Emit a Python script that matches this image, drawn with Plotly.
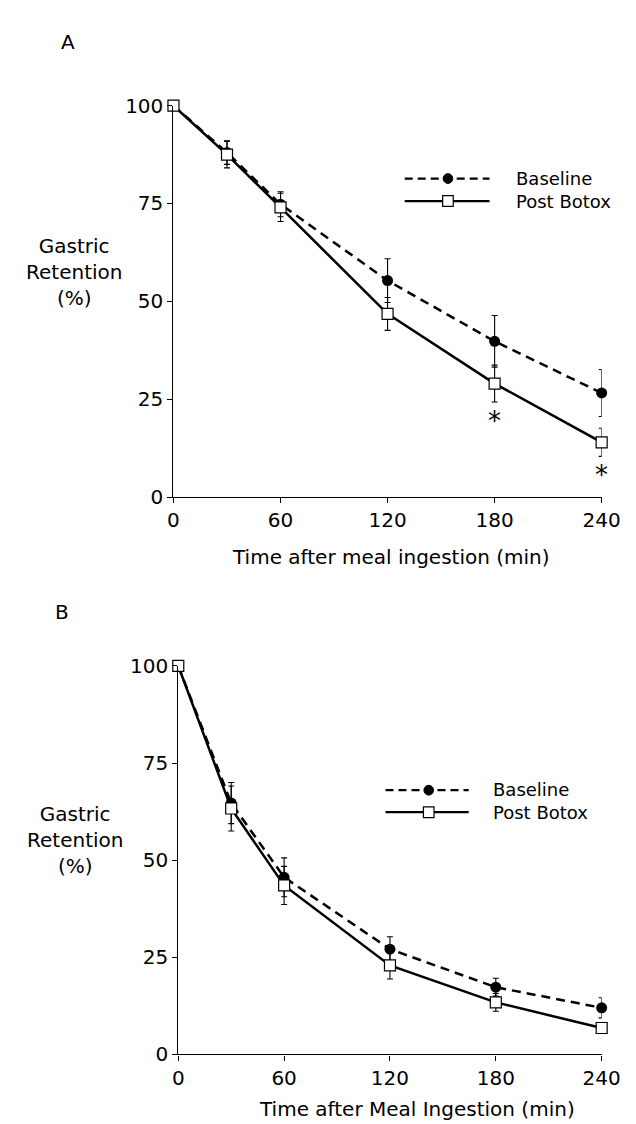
import plotly.graph_objects as go

W, H = 636, 1124

# ---------------- data ----------------
time_min = [0, 30, 60, 120, 180, 240]
x_ticks = [0, 60, 120, 180, 240]
y_ticks = [0, 25, 50, 75, 100]

a_baseline = [100, 88.0, 74.8, 55.3, 39.8, 26.6]
a_baseline_err = [0, 3.0, 3.2, 5.6, 6.6, 6.0]
a_post = [100, 87.5, 74.0, 46.8, 29.0, 14.0]
a_post_err = [0, 3.4, 3.6, 4.2, 4.7, 3.6]

b_baseline = [100, 64.7, 45.6, 27.1, 17.3, 12.0]
b_baseline_err = [0, 5.3, 5.0, 3.2, 2.3, 2.6]
b_post = [100, 63.3, 43.5, 22.9, 13.4, 6.8]
b_post_err = [0, 5.8, 4.9, 3.5, 2.3, 1.0]

a_sig_times = [180, 240]

series_names = ["Baseline", "Post Botox"]
panel_letters = ["A", "B"]
x_titles = ["Time after meal ingestion (min)", "Time after Meal Ingestion (min)"]
y_title = "Gastric<br>Retention<br>(%)"

FONT = "DejaVu Sans"


def px(x):
    return x / W


def py(y):
    return 1 - y / H


fig = go.Figure()


def add_panel(xa, ya, base, base_err, post, post_err):
    fig.add_trace(go.Scatter(
        x=time_min, y=base, name=series_names[0], mode="lines+markers",
        xaxis=xa, yaxis=ya, cliponaxis=False, showlegend=False,
        line=dict(color="black", width=2.5, dash="9px,6px"),
        marker=dict(symbol="circle", size=11, color="black"),
        error_y=dict(type="data", array=base_err, symmetric=True,
                     color="black", thickness=1.1, width=3),
    ))
    fig.add_trace(go.Scatter(
        x=time_min, y=post, name=series_names[1], mode="lines+markers",
        xaxis=xa, yaxis=ya, cliponaxis=False, showlegend=False,
        line=dict(color="black", width=2.5),
        marker=dict(symbol="square", size=11, color="white",
                    line=dict(color="black", width=1.2)),
        error_y=dict(type="data", array=post_err, symmetric=True,
                     color="black", thickness=1.1, width=3),
    ))


add_panel("x", "y", a_baseline, a_baseline_err, a_post, a_post_err)
add_panel("x2", "y2", b_baseline, b_baseline_err, b_post, b_post_err)

axis_common = dict(
    showline=True, linecolor="black", linewidth=1.3,
    ticks="outside", ticklen=5, tickwidth=1.1, tickcolor="black",
    showgrid=False, zeroline=False,
    tickfont=dict(family=FONT, size=20, color="black"),
)

fig.update_layout(
    width=W, height=H, autosize=False,
    margin=dict(l=0, r=0, t=0, b=0),
    paper_bgcolor="white", plot_bgcolor="white",
    showlegend=False,
    font=dict(family=FONT, color="black"),
    xaxis=dict(domain=[px(166), px(611.7)], anchor="y", range=[0, 240],
               tickvals=x_ticks, **axis_common),
    yaxis=dict(domain=[py(487.5), py(87.5)], anchor="x", range=[0, 100],
               tickvals=y_ticks, **axis_common),
    xaxis2=dict(domain=[px(171), px(611.7)], anchor="y2", range=[0, 240],
                tickvals=x_ticks, **axis_common),
    yaxis2=dict(domain=[py(1057), py(660)], anchor="x2", range=[0, 100],
                tickvals=y_ticks, **axis_common),
)

ann = []
# panel letters
ann.append(dict(x=px(56), y=py(22), text=panel_letters[0]))
ann.append(dict(x=px(50), y=py(605), text=panel_letters[1]))
# y titles
ann.append(dict(x=px(62), y=py(258), text=y_title))
ann.append(dict(x=px(64), y=py(838), text=y_title))
# x titles
ann.append(dict(x=px(392), y=py(549), text=x_titles[0]))
ann.append(dict(x=px(420), y=py(1113), text=x_titles[1]))
for a in ann:
    a.update(xref="paper", yref="paper", showarrow=False,
             xanchor="center", yanchor="middle",
             font=dict(family=FONT, size=20, color="black"))

# significance stars under Post Botox error bars in panel A
for t in a_sig_times:
    i = time_min.index(t)
    ann.append(dict(x=t, y=a_post[i] - a_post_err[i],
                    xref="x", yref="y", text="*", showarrow=False,
                    xanchor="center", yanchor="top", yshift=-2,
                    font=dict(family=FONT, size=26, color="black")))

# manual legends (line samples as shapes, labels as one two-line text)
shapes = []


def add_legend(x0, x1, xm, xt, y_base, y_post):
    shapes.append(dict(type="line", xref="paper", yref="paper",
                       x0=px(x0), x1=px(x1), y0=py(y_base), y1=py(y_base),
                       line=dict(color="black", width=2.3, dash="8px,5px")))
    r = 5
    shapes.append(dict(type="circle", xref="paper", yref="paper",
                       x0=px(xm - r), x1=px(xm + r), y0=py(y_base + r), y1=py(y_base - r),
                       fillcolor="black", line=dict(color="black", width=1)))
    shapes.append(dict(type="line", xref="paper", yref="paper",
                       x0=px(x0), x1=px(x1), y0=py(y_post), y1=py(y_post),
                       line=dict(color="black", width=2.3)))
    s = 5.5
    shapes.append(dict(type="rect", xref="paper", yref="paper",
                       x0=px(xm - s), x1=px(xm + s), y0=py(y_post + s), y1=py(y_post - s),
                       fillcolor="white", line=dict(color="black", width=1.2)))
    ann.append(dict(x=px(xt), y=py((y_base + y_post) / 2),
                    text="<br>".join(series_names), xref="paper", yref="paper",
                    showarrow=False, xanchor="left", yanchor="middle", align="left",
                    font=dict(family=FONT, size=18, color="black")))


add_legend(406.7, 495, 451.7, 520, 162.0, 185.0)
add_legend(386.7, 473.3, 431.7, 497, 787.0, 809.5)

fig.update_layout(annotations=ann, shapes=shapes)

fig.write_html("out.html")
